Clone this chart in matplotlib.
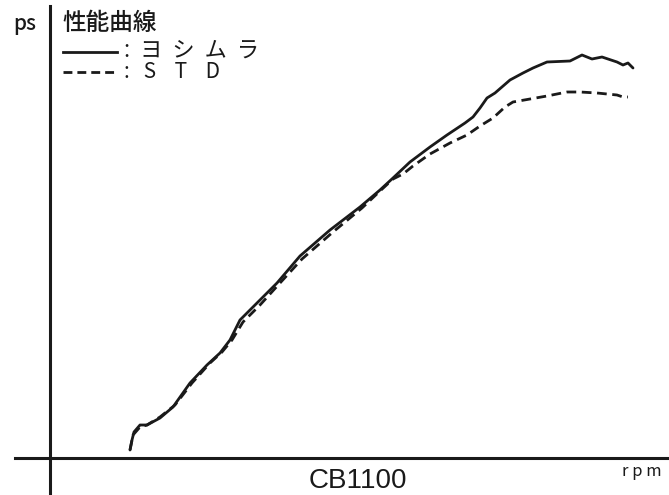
import matplotlib
matplotlib.use('Agg')
import matplotlib.pyplot as plt

plt.rcParams['font.family'] = ['Noto Sans CJK JP', 'DejaVu Sans']

# 性能曲線 (横: rpm, 縦: ps) 図から読み取った値, 原点からの相対位置
rpm_yoshimura = [80, 82, 84, 90, 97, 110, 123, 140, 157, 170, 180, 190, 207, 227, 250, 280,
                 310, 330, 343, 360, 380, 397, 415, 423, 430, 437, 445, 460, 473, 483, 497,
                 520, 532, 542, 552, 567, 573, 578, 583]
ps_yoshimura = [8, 18, 26, 33, 33, 40, 51, 75, 93, 105, 118, 138, 155, 175, 202, 228,
                251, 268, 280, 296, 311, 323, 335, 341, 350, 360, 365, 378, 385, 390, 396,
                397, 403, 399, 401, 396, 393, 395, 390]

rpm_std = [80, 83, 90, 97, 110, 125, 142, 160, 172, 182, 193, 210, 230, 252, 283, 312,
           330, 343, 353, 363, 380, 400, 417, 430, 443, 455, 463, 480, 497, 517, 530,
           547, 567, 573, 578]
ps_std = [8, 23, 31, 33, 41, 53, 75, 95, 106, 118, 136, 153, 175, 199, 226, 250,
          267, 279, 284, 292, 304, 315, 323, 332, 340, 351, 356, 359, 362, 366, 366,
          365, 363, 361, 361]

legend_labels = ['ヨシムラ', 'STD']

fig = plt.figure(figsize=(6.69, 4.95), dpi=100)
ax = fig.add_axes([0, 0, 1, 1])
ax.set_xlim(-50, 619)
ax.set_ylim(-37, 458)
ax.axis('off')

ink = '#1a1a1a'

# 軸
ax.axhline(0, xmin=15 / 669, xmax=1, color=ink, lw=2.2)
ax.axvline(0, ymin=0, ymax=(458 - 6 + 37) / 495, color=ink, lw=2.2)

ax.plot(rpm_yoshimura, ps_yoshimura, color=ink, lw=2.0,
        solid_capstyle='round', solid_joinstyle='round')
ax.plot(rpm_std, ps_std, color=ink, lw=2.0, dashes=(3.5, 2))

# ラベル
ax.text(-25, 428, 'ps', fontsize=15, ha='center', va='baseline', color=ink,
        fontweight='medium')
ax.text(12, 435, '性能曲線', fontsize=17, ha='left', va='center', color=ink,
        fontweight='medium')

# 凡例 (文字間隔を広げて描く)
ax.plot([13, 67], [406, 406], color=ink, lw=2.0)
ax.text(74, 401, ':  ' + '  '.join(legend_labels[0]), fontsize=16,
        ha='left', va='baseline', color=ink)
ax.plot([13, 67], [386, 386], color=ink, lw=2.0, dashes=(3.2, 1.8))
ax.text(74, 380, ':   ' + '    '.join(legend_labels[1]), fontsize=15,
        ha='left', va='baseline', color=ink)

ax.text(308, -30, 'CB1100', fontsize=20, ha='center', va='baseline', color=ink,
        family='Liberation Sans')
ax.text(592, -13, 'r p m', fontsize=12, ha='center', va='center', color=ink)

fig.savefig('out.png', dpi=100)
